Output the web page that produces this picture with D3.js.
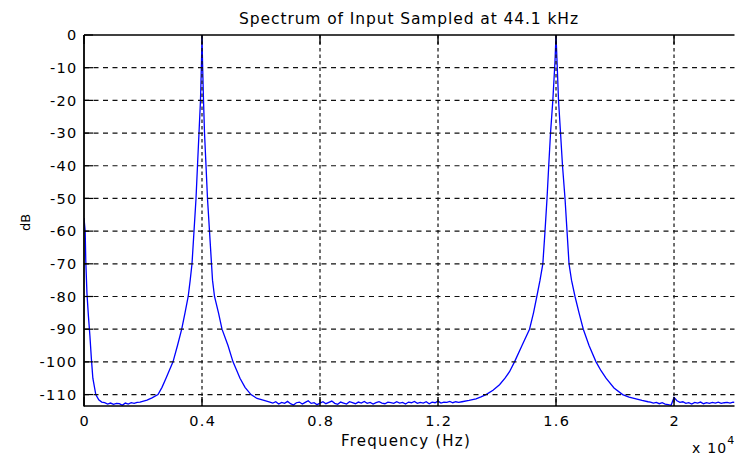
<!DOCTYPE html>
<html>
<head>
<meta charset="utf-8">
<title>spectrum</title>
<script src="https://cdn.jsdelivr.net/npm/d3@7"></script>
<style>
body { margin:0; background:#fff; }
text { font-family:"DejaVu Sans", sans-serif; fill:#000; }
</style>
</head>
<body>
<svg id="chart" width="735" height="455"></svg>
<script>
// spectrum, in Hz and dB
var dcFreq  = [0, 40, 60, 100, 150, 200, 250, 300, 400, 500, 600];
var dcDb    = [-56, -60, -69, -79, -86, -92, -99, -105, -110, -111.6, -112.3];

var floorAFreq = [700, 800, 900, 1000, 1100, 1200, 1300, 1400, 1500, 1600, 1700, 1800];
var floorADb   = [-112.5, -112.9, -112.6, -113.0, -112.7, -112.8, -113.3, -112.6, -112.9, -112.5, -112.7, -112.4];

var peak1Freq = [1898, 2136, 2305, 2508, 2644, 2780, 2898, 3017, 3169, 3312, 3424, 3532, 3600, 3661, 3729, 3797, 3847, 3898, 3949, 3983, 4000,
                 4017, 4051, 4085, 4136, 4186, 4254, 4322, 4356, 4424, 4559, 4678, 4881, 5051, 5170, 5288, 5458, 5661, 5865, 6102, 6300];
var peak1Db   = [-112.3, -111.7, -111.0, -110, -107.8, -105, -102.5, -100, -95, -90, -85, -80, -75, -70, -60, -50, -40, -30, -20, -8, 0,
                 -8, -20, -30, -40, -50, -60, -70, -75, -80, -85, -90, -95, -100, -102.5, -105, -107.8, -110, -111.2, -111.8, -112.3];

var floorBFreq = [6400, 6500, 6600, 6700, 6800, 6900, 7000, 7100, 7200, 7300,
                  7400, 7500, 7600, 7700, 7800, 7900, 8000, 8100, 8200, 8300,
                  8400, 8500, 8600, 8700, 8800, 8900, 9000, 9100, 9200, 9300,
                  9400, 9500, 9600, 9700, 9800, 9900, 10000, 10100, 10200, 10300,
                  10400, 10500, 10600, 10700, 10800, 10900, 11000, 11100, 11200, 11300,
                  11400, 11500, 11600, 11700, 11800, 11900, 12000, 12100, 12200, 12300,
                  12400, 12500, 12600, 12700];
var floorBDb   = [-112.6, -112.2, -112.9, -112.4, -112.7, -112.1, -112.8, -113.2, -112.5, -112.3,
                  -112.9, -112.4, -111.9, -112.7, -112.5, -113.1, -112.6, -112.2, -112.8, -112.4,
                  -112.0, -112.7, -113.0, -112.3, -112.6, -112.9, -112.2, -112.5, -112.8, -112.3,
                  -112.6, -112.1, -112.7, -112.4, -112.9, -112.5, -112.2, -112.6, -112.8, -112.3,
                  -112.5, -112.7, -112.2, -112.6, -112.4, -112.9, -112.3, -112.5, -112.1, -112.7,
                  -112.4, -112.6, -112.2, -112.8, -112.3, -112.5, -112.0, -112.6, -112.3, -112.4,
                  -112.1, -112.5, -112.2, -112.4];

var peak2Freq = [12813, 13051, 13288, 13457, 13627, 13864, 14085, 14271, 14424, 14593, 14847, 15102, 15237, 15349, 15458, 15553, 15627, 15695, 15753, 15814, 15892, 15966, 16000,
                 16034, 16085, 16153, 16220, 16305, 16373, 16441, 16525, 16644, 16780, 16925, 17119, 17356, 17526, 17695, 17966, 18258, 18475, 18712, 18915, 19119];
var peak2Db   = [-112.2, -111.8, -111.3, -110.7, -110, -108.7, -107, -105, -103, -100, -95, -90, -85, -80, -75, -70, -60, -50, -40, -30, -20, -8, 0,
                 -8, -20, -30, -40, -50, -60, -70, -75, -80, -85, -90, -95, -100, -102.7, -105, -108, -110, -110.8, -111.3, -111.8, -112.2];

var floorCFreq = [19200, 19300, 19400, 19500, 19600, 19700, 19800, 19900, 20000, 20100,
                  20200, 20300, 20400, 20500, 20600, 20700, 20800, 20900, 21000, 21100,
                  21200, 21300, 21400, 21500, 21600, 21700, 21800, 21900, 22000, 22050];
var floorCDb   = [-112.3, -112.6, -112.4, -112.8, -112.5, -112.9, -113.1, -113.3, -110.9, -111.9,
                  -112.4, -112.2, -112.7, -112.5, -112.9, -112.4, -112.6, -112.3, -112.8, -112.5,
                  -112.7, -112.4, -112.6, -112.3, -112.7, -112.5, -112.4, -112.6, -112.3, -112.4];

var xTicks = [0, 4000, 8000, 12000, 16000, 20000];
var xTickLabels = ["0", "0.4", "0.8", "1.2", "1.6", "2"];
var yTicks = [0, -10, -20, -30, -40, -50, -60, -70, -80, -90, -100, -110];

var freq = [].concat(dcFreq, floorAFreq, peak1Freq, floorBFreq, peak2Freq, floorCFreq);
var db = [].concat(dcDb, floorADb, peak1Db, floorBDb, peak2Db, floorCDb);
var pts = freq.map(function(f, i){ return [f, db[i]]; });

var L = 84, T = 35, R = 734.5, B = 406;
var svg = d3.select("#chart");
var x = d3.scaleLinear().domain([0, 22050]).range([L, R]);
var y = d3.scaleLinear().domain([-113.5, 0]).range([B, T]);

svg.append("clipPath").attr("id", "clip")
  .append("rect").attr("x", L).attr("y", T).attr("width", R - L).attr("height", B - T);

// curve
svg.append("path").datum(pts)
  .attr("clip-path", "url(#clip)")
  .attr("fill", "none").attr("stroke", "#0000ff").attr("stroke-width", 1.3)
  .attr("d", d3.line().x(function(d){ return x(d[0]); }).y(function(d){ return y(d[1]); }));

// grid, drawn over the curve like matlab does
var grid = svg.append("g").attr("stroke", "#111").attr("stroke-width", 1.2).attr("fill", "none");
grid.selectAll(".gy").data(yTicks.filter(function(v){ return v !== 0; })).enter().append("line")
  .attr("x1", L).attr("x2", R).attr("y1", function(d){ return y(d); }).attr("y2", function(d){ return y(d); })
  .attr("stroke-dasharray", "5,4.5");
grid.selectAll(".gx").data(xTicks.filter(function(v){ return v !== 0; })).enter().append("line")
  .attr("y1", T).attr("y2", B).attr("x1", function(d){ return x(d); }).attr("x2", function(d){ return x(d); })
  .attr("stroke-dasharray", "3.5,3");

// box and inside ticks
var ax = svg.append("g").attr("stroke", "#000").attr("fill", "none");
ax.append("line").attr("x1", L).attr("x2", L).attr("y1", T).attr("y2", B + 0.5).attr("stroke-width", 1.8);
ax.append("line").attr("x1", L).attr("x2", R).attr("y1", B).attr("y2", B).attr("stroke-width", 1.4);
ax.append("line").attr("x1", L).attr("x2", R).attr("y1", T).attr("y2", T).attr("stroke-width", 1.4);
ax.selectAll(".tx").data(xTicks).enter().append("line")
  .attr("x1", function(d){ return x(d); }).attr("x2", function(d){ return x(d); })
  .attr("y1", B).attr("y2", B - 9).attr("stroke-width", 1.4);
ax.selectAll(".tt").data(xTicks).enter().append("line")
  .attr("x1", function(d){ return x(d); }).attr("x2", function(d){ return x(d); })
  .attr("y1", T).attr("y2", T + 9).attr("stroke-width", 1.4);
ax.selectAll(".ty").data(yTicks).enter().append("line")
  .attr("x1", L).attr("x2", L + 9).attr("y1", function(d){ return y(d); }).attr("y2", function(d){ return y(d); })
  .attr("stroke-width", 1.2);

// tick labels
svg.selectAll(".yl").data(yTicks).enter().append("text")
  .attr("x", 77.5).attr("y", function(d){ return y(d); }).attr("dy", "0.36em")
  .attr("text-anchor", "end").attr("font-size", "14.5px").attr("letter-spacing", "1.3px")
  .text(function(d){ return d; });
svg.selectAll(".xl").data(xTicks).enter().append("text")
  .attr("x", function(d){ return x(d) + 0.7; }).attr("y", 425.5)
  .attr("text-anchor", "middle").attr("font-size", "14.5px").attr("letter-spacing", "1.3px")
  .text(function(d, i){ return xTickLabels[i]; });

// titles
svg.append("text").attr("x", 409).attr("y", 23.5).attr("text-anchor", "middle")
  .attr("font-size", "15.5px").attr("letter-spacing", "0.9px")
  .text("Spectrum of Input Sampled at 44.1 kHz");
svg.append("text").attr("x", 406).attr("y", 446).attr("text-anchor", "middle")
  .attr("font-size", "15px").attr("letter-spacing", "1.2px")
  .text("Frequency (Hz)");
svg.append("text").attr("transform", "translate(30,222.5) rotate(-90)").attr("text-anchor", "middle")
  .attr("font-size", "13px").attr("font-family", "Liberation Sans, Arial, sans-serif")
  .text("dB");
var e = svg.append("text").attr("x", 692).attr("y", 453).attr("font-size", "14px").attr("letter-spacing", "1.2px");
e.append("tspan").text("x 10");
e.append("tspan").attr("dy", -9).attr("font-size", "11px").text("4");
</script>
</body>
</html>
